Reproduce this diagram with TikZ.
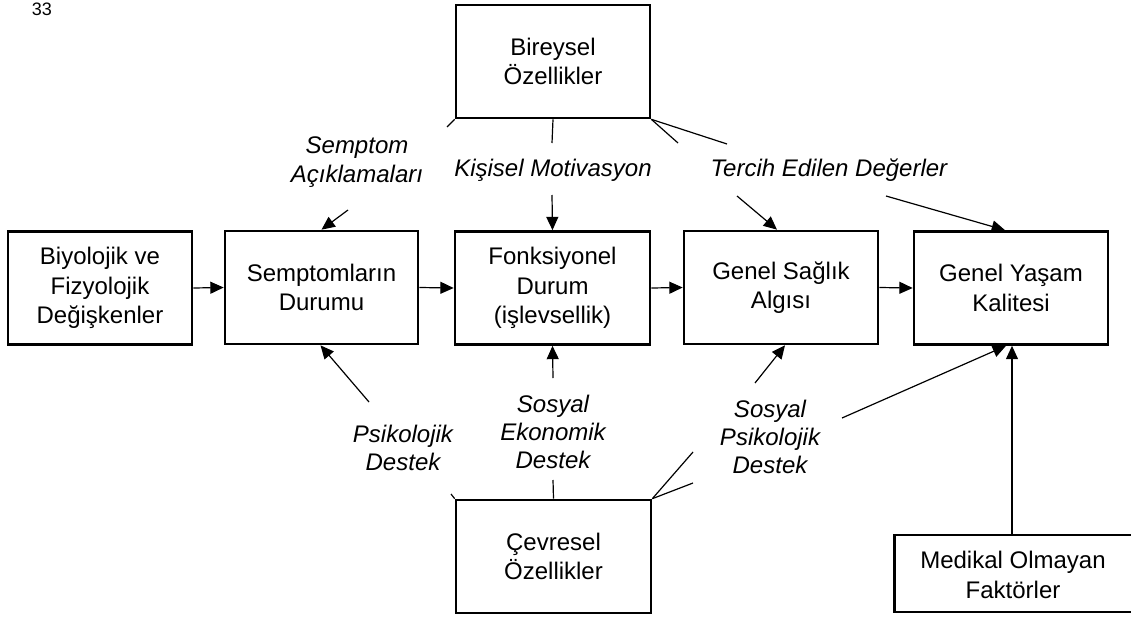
\documentclass[tikz,border=0pt]{standalone}
\usepackage{fontspec}
\setmainfont{Liberation Sans}
\usetikzlibrary{arrows.meta,calc}
\tikzset{
  box/.style={draw, line width=2pt, rectangle, minimum height=113*0.75pt, inner sep=0pt, align=center, font=\fontsize{18}{20.4}\selectfont},
  txt/.style={align=center, inner sep=0pt, font=\fontsize{18}{20.4}\selectfont},
  lbl/.style={align=center, inner sep=0pt, font=\fontsize{18}{20.8}\selectfont\itshape},
  con/.style={line width=0.9pt},
  arr/.style={line width=0.9pt, -{Triangle[length=10pt,width=9pt]}},
}
\begin{document}
\begin{tikzpicture}[x=0.75pt,y=-0.75pt]
\useasboundingbox (0,0) rectangle (1131,617);
\clip (0,0) rectangle (1131,617);
% page number
\node[inner sep=0pt, font=\fontsize{13.5}{15}\selectfont] (pg) at (42,9) {33};
% boxes
\node[box, minimum width=194*0.75pt] (bir) at (553,61.5) {Bireysel\\[1.5pt]Özellikler};
\node[box, minimum width=184*0.75pt] (bio) at (100,288) {Biyolojik ve\\[1.5pt]Fizyolojik\\[1.5pt]Değişkenler};
\node[box, minimum width=193*0.75pt] (sem) at (321.5,287.5) {Semptomların\\[1.5pt]Durumu};
\node[box, minimum width=195*0.75pt] (fon) at (552.5,288) {Fonksiyonel\\[1.5pt]Durum\\[1.5pt](işlevsellik)};
\node[box, minimum width=194*0.75pt] (gsa) at (781,287.5) {Genel Sağlık\\[1.5pt]Algısı};
\node[box, minimum width=194*0.75pt] (gyk) at (1011,288) {Genel Yaşam\\[1.5pt]Kalitesi};
\node[box, minimum width=255*0.75pt, minimum height=77*0.75pt, anchor=west] (medbox) at (893,573.5) {};
\node[txt] (med) at (1013,575) {Medikal Olmayan\\[1.5pt]Faktörler};
\node[box, minimum width=195*0.75pt] (cev) at (553.5,556.5) {Çevresel\\[1.5pt]Özellikler};
% labels
\node[lbl] (l1) at (357,162) {Semptom\\[1pt]Açıklamaları};
\node[lbl] (l2) at (553,170) {Kişisel Motivasyon};
\node[lbl] (l3) at (829,170) {Tercih Edilen Değerler};
\node[lbl] (l4) at (403,448) {Psikolojik\\Destek};
\node[lbl] (l5) at (553,432) {Sosyal\\Ekonomik\\Destek};
\node[lbl] (l6) at (770,437) {Sosyal\\Psikolojik\\Destek};
% free ends
\coordinate (a1) at (447,127);
\coordinate (a2) at (348,210);
\coordinate (b1) at (552,143);
\coordinate (b2) at (552,195);
\coordinate (c1) at (678,143);
\coordinate (c2) at (727,144);
\coordinate (c3) at (737,196);
\coordinate (c4) at (886,196);
\coordinate (d1) at (369,402);
\coordinate (d2) at (451,494);
\coordinate (e1) at (553,480);
\coordinate (e2) at (553,378);
\coordinate (f1) at (693,452);
\coordinate (f2) at (693,483);
\coordinate (f3) at (755,383);
\coordinate (f4) at (842,418);
% main chain
\draw[arr] (bio.east) -- (sem.west);
\draw[arr] (sem.east) -- (fon.west);
\draw[arr] (fon.east) -- (gsa.west);
\draw[arr] (gsa.east) -- (gyk.west);
% from Bireysel
\draw[con] (bir.south west) -- (a1);
\draw[arr] (a2) -- (sem.north);
\draw[con] (bir.south) -- (b1);
\draw[arr] (b2) -- (fon.north);
\draw[con] (bir.south east) -- (c1);
\draw[con] (bir.south east) -- (c2);
\draw[arr] (c3) -- ($(gsa.north)+(-4,0)$);
\draw[arr] (c4) -- ($(gyk.north)+(-6,0)$);
% from Cevresel
\draw[arr] (d1) -- ($(sem.south)+(-1,0)$);
\draw[con] (cev.north west) -- (d2);
\draw[con] (cev.north) -- (e1);
\draw[arr] (e2) -- (fon.south);
\draw[con] (cev.north east) -- (f1);
\draw[con] (cev.north east) -- (f2);
\draw[arr] (f3) -- ($(gsa.south)+(4,0)$);
\draw[arr] (f4) -- ($(gyk.south)+(-5,0)$);
% Medikal
\draw[arr] ($(medbox.north west)+(119,0)$) -- ($(gyk.south)+(1,0)$);
\end{tikzpicture}
\end{document}
